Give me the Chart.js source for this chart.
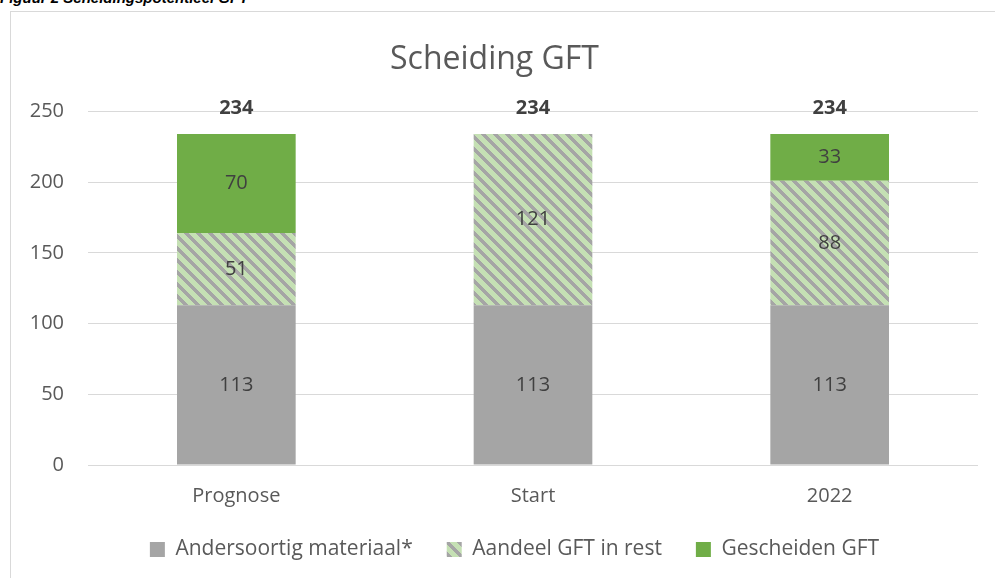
<!DOCTYPE html>
<html>
<head>
<meta charset="utf-8">
<script src="https://cdn.jsdelivr.net/npm/chart.js@4.4.0/dist/chart.umd.min.js"></script>
<style>
  body { margin: 0; background: #fff; width: 995px; height: 578px; overflow: hidden; position: relative; }
  .caption { position: absolute; left: 0; top: -11px; font: italic bold 15px "Liberation Sans", Arial, sans-serif; color: #000; white-space: nowrap; }
  .frame { position: absolute; left: 10px; top: 11px; width: 1000px; height: 600px; border: 1px solid #d9d9d9; }
  .wrap { position: absolute; left: 11px; top: 12px; width: 984px; height: 566px; }
</style>
</head>
<body>
<div class="caption">Figuur 2 Scheidingspotentieel GFT</div>
<div class="frame"></div>
<div class="wrap"><canvas id="gftChart"></canvas></div>
<script>
// === Data
const categories = ["Prognose", "Start", "2022"];
const andersoortig = [113, 113, 113];
const aandeelGftRest = [51, 121, 88];
const gescheidenGft = [70, 0, 33];
const totals = [234, 234, 234];
const yTicks = [0, 50, 100, 150, 200, 250];

const FONT = "'Open Sans', sans-serif";

// === Arcering voor "Aandeel GFT in rest" (pixel-patroon, scherp)
function makeHatch() {
  const n = 12;
  const c = document.createElement("canvas");
  c.width = n;
  c.height = n;
  const g = c.getContext("2d");
  g.fillStyle = "#c5e0b4";
  g.fillRect(0, 0, n, n);
  g.fillStyle = "#a5a5a5";
  for (let y = 0; y < n; y++) {
    for (let x = 0; x < n; x++) {
      if ((((x - y) % n) + n) % n < 5) g.fillRect(x, y, 1, 1);
    }
  }
  return g.createPattern(c, "repeat");
}
const hatch = makeHatch();

// === Labels in en boven de staven
const barLabels = {
  id: "barLabels",
  afterDatasetsDraw(chart) {
    const ctx = chart.ctx;
    ctx.save();
    ctx.textAlign = "center";
    ctx.textBaseline = "middle";
    ctx.fillStyle = "#404040";
    ctx.font = "20px " + FONT;
    chart.data.datasets.forEach((ds, i) => {
      chart.getDatasetMeta(i).data.forEach((bar, j) => {
        if (!ds.data[j]) return;
        ctx.fillText(ds.data[j], bar.x, (bar.y + bar.base) / 2);
      });
    });
    ctx.font = "bold 20px " + FONT;
    const yScale = chart.scales.y;
    chart.getDatasetMeta(0).data.forEach((bar, j) => {
      ctx.fillText(totals[j], bar.x, yScale.getPixelForValue(totals[j]) - 26);
    });
    ctx.restore();
  },
};

// === Legenda iets omhoog en naar rechts schuiven
const legendShift = {
  id: "legendShift",
  afterLayout(chart) {
    if (!chart.legend) return;
    chart.legend.top -= 14;
    chart.legend.bottom -= 14;
    chart.legend.left += 20;
    chart.legend.right += 20;
  },
};

new Chart(document.getElementById("gftChart"), {
  type: "bar",
  data: {
    labels: categories,
    datasets: [
      { label: "Andersoortig materiaal*", data: andersoortig, backgroundColor: "#a5a5a5" },
      { label: "Aandeel GFT in rest", data: aandeelGftRest, backgroundColor: hatch },
      { label: "Gescheiden GFT", data: gescheidenGft, backgroundColor: "#70ad47" },
    ],
  },
  options: {
    responsive: true,
    maintainAspectRatio: false,
    animation: false,
    layout: { padding: { top: 14, right: 17, bottom: -6, left: 0 } },
    datasets: { bar: { barPercentage: 0.4, categoryPercentage: 1 } },
    plugins: {
      title: {
        display: true,
        text: "Scheiding GFT",
        color: "#595959",
        font: { family: "Open Sans", size: 32, weight: "normal" },
        padding: { top: 15, bottom: 32 },
      },
      legend: {
        position: "bottom",
        labels: {
          color: "#595959",
          font: { family: "Open Sans", size: 21 },
          boxWidth: 15,
          boxHeight: 15,
          padding: 34,
        },
      },
      tooltip: { enabled: false },
    },
    scales: {
      x: {
        stacked: true,
        grid: { display: false },
        border: { display: false },
        ticks: { color: "#595959", font: { family: "Open Sans", size: 20 }, padding: 11 },
      },
      y: {
        stacked: true,
        min: 0,
        max: 250,
        afterBuildTicks: (axis) => { axis.ticks = yTicks.map((v) => ({ value: v })); },
        afterFit: (axis) => { axis.width = 77; },
        grid: { color: "#d9d9d9", lineWidth: 1, drawTicks: false },
        border: { display: false },
        ticks: { color: "#595959", font: { family: "Open Sans", size: 20 }, padding: 24 },
      },
    },
  },
  plugins: [barLabels, legendShift],
});
</script>
</body>
</html>
